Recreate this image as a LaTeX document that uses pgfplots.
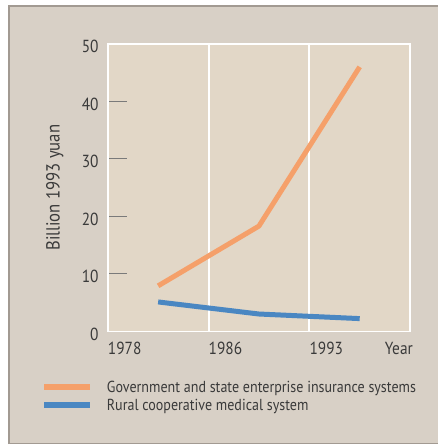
\documentclass[border=0pt]{standalone}
\usepackage{fontspec}
\setmainfont{PT Sans}[FakeStretch=0.88]
\usepackage{pgfplots}
\pgfplotsset{compat=1.18}

\definecolor{panel}{HTML}{D8D0C6}
\definecolor{plotbg}{HTML}{E2D7C7}
\definecolor{frameline}{HTML}{A29A92}
\definecolor{govorange}{HTML}{F5A06A}
\definecolor{ruralblue}{HTML}{4A87C2}
\definecolor{txt}{HTML}{3A3A3A}
\definecolor{tickgray}{HTML}{7A7A7A}

% Health spending series (billion 1993 yuan), placed between the year columns
\pgfplotstableread{
x    y
0.5  7.9
1.5  18.3
2.5  46.0
}\govdata
\pgfplotstableread{
x    y
0.5  5.1
1.5  3.0
2.5  2.2
}\ruraldata

\begin{document}
\begin{tikzpicture}[x=1bp,y=1bp]
% panel behind the chart
\fill[white] (0,0) rectangle (439,445);
\fill[panel] (9,0) rectangle (439,439);
\draw[frameline, line width=2bp] (9,0) -- (9,439) -- (439,439);
\draw[frameline, line width=1.5bp] (9,0.75) -- (439,0.75);
\begin{axis}[
  at={(108bp,113bp)}, anchor=south west,
  width=303bp, height=288bp, scale only axis,
  xmin=0, xmax=3, ymin=0, ymax=50,
  axis background/.style={fill=plotbg},
  axis line style={white, line width=1.5bp},
  /pgf/number format/assume math mode=true,
  font=\fontsize{17.5bp}{20bp}\selectfont,
  every tick label/.append style={text=txt},
  xtick={0,1,2},
  xticklabels={1978,1986,1993},
  xmajorgrids,
  major grid style={white, line width=2bp},
  x tick style={draw=none},
  xticklabel style={anchor=north west, inner sep=0pt, yshift=-11bp},
  xlabel={Year},
  xlabel style={at={(rel axis cs:1,0)}, anchor=north east, inner sep=0pt,
                yshift=-11bp, xshift=3bp, text=txt},
  ytick={10,20,30,40},
  extra y ticks={0,50},
  extra y tick style={major tick length=0pt},
  ytick pos=left,
  tick align=inside,
  major tick length=19bp,
  y tick style={tickgray, line width=1bp},
  yticklabel style={anchor=east, inner sep=0pt, xshift=-9bp, yshift=-3bp},
  ylabel={Billion 1993 yuan},
  ylabel style={at={(rel axis cs:0,0.5)}, anchor=center, yshift=53bp,
                text=txt, font=\fontsize{19bp}{22bp}\selectfont},
  legend cell align=left,
  legend style={at={(-0.2211,-0.1657)}, anchor=north west,
                draw=none, fill=none, inner sep=0pt, column sep=14bp,
                row sep=2.3bp,
                font=\fontsize{16bp}{19bp}\selectfont,
                nodes={inner sep=0pt, text=txt, text height=13bp, text depth=3bp}},
  legend image code/.code={\draw[#1, line width=6bp, line cap=butt] (0bp,0bp) -- (46bp,0bp);},
]
\addplot[govorange, line width=5bp, line join=round, line cap=butt] table[x=x, y=y] {\govdata};
\addlegendentry{Government and state enterprise insurance systems}
\addplot[ruralblue, line width=5bp, line join=round, line cap=butt] table[x=x, y=y] {\ruraldata};
\addlegendentry{Rural cooperative medical system}
\end{axis}
\end{tikzpicture}
\end{document}
